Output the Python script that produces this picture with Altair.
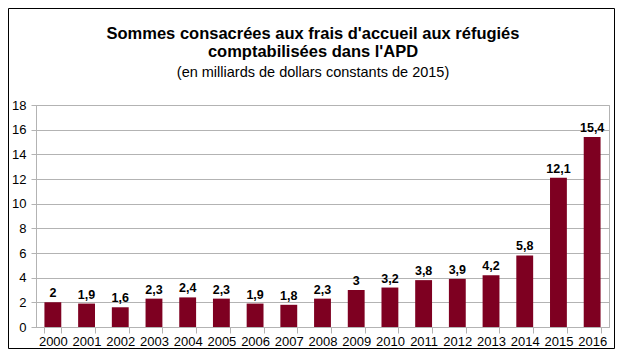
import altair as alt
import pandas as pd

years = [str(y) for y in range(2000, 2017)]
values = [2, 1.9, 1.6, 2.3, 2.4, 2.3, 1.9, 1.8, 2.3, 3, 3.2, 3.8, 3.9, 4.2, 5.8, 12.1, 15.4]
labels = [f"{v:g}".replace(".", ",") for v in values]
y_ticks = list(range(0, 19, 2))

title_lines = ["Sommes consacrées aux frais d'accueil aux réfugiés", "comptabilisées dans l'APD"]
subtitle = "(en milliards de dollars constants de 2015)"

df = pd.DataFrame({"year": years, "value": values, "label": labels})

W, H = 573, 222
PL, PT, PR, PB = 28, 97, 6, 22

x = alt.X("year:N", title=None, sort=None,
          scale=alt.Scale(paddingInner=0.5, paddingOuter=0.25),
          axis=alt.Axis(labelAngle=0, tickBand="extent", tickSize=6, tickColor="#b3b3b3",
                        domainColor="#b3b3b3", labelPadding=2, labelFont="Liberation Sans",
                        labelFontSize=13, labelColor="black", grid=False))
y = alt.Y("value:Q", title=None,
          scale=alt.Scale(domain=[0, 18], nice=False),
          axis=alt.Axis(values=y_ticks, tickSize=5, tickColor="#b3b3b3", domainColor="#b3b3b3",
                        gridColor="#b3b3b3", labelPadding=5, labelFont="Liberation Sans",
                        labelFontSize=13, labelColor="black"))

base = alt.Chart(df)
bars = base.mark_bar(color="#7e0021").encode(x=x, y=y)
text = base.mark_text(baseline="alphabetic", dy=-5, font="Liberation Sans", fontSize=12.5,
                      fontWeight="bold", color="black").encode(x=x, y=y, text="label:N")

one = pd.DataFrame({"k": [0]})
border = alt.Chart(one).mark_rect(fill=None, stroke="black", strokeWidth=1).encode(
    x=alt.value(-PL + 0.5), x2=alt.value(W + PR - 0.5),
    y=alt.value(-PT + 0.5), y2=alt.value(H + PB - 0.5))

cx = 277
t1 = alt.Chart(one).mark_text(font="Liberation Sans", fontSize=16.5, fontWeight="bold", color="black",
                              align="center", baseline="alphabetic").encode(
    x=alt.value(cx), y=alt.value(-66.5), text=alt.value(title_lines[0]))
t2 = alt.Chart(one).mark_text(font="Liberation Sans", fontSize=16.5, fontWeight="bold", color="black",
                              align="center", baseline="alphabetic").encode(
    x=alt.value(cx), y=alt.value(-48), text=alt.value(title_lines[1]))
t3 = alt.Chart(one).mark_text(font="Liberation Sans", fontSize=14.5, color="black",
                              align="center", baseline="alphabetic").encode(
    x=alt.value(cx), y=alt.value(-28.5), text=alt.value(subtitle))

chart = alt.layer(bars, text, border, t1, t2, t3).properties(
    width=W, height=H,
    padding={"left": PL, "top": PT, "right": PR, "bottom": PB},
    autosize=alt.AutoSizeParams(type="none"),
    background="white",
).configure_view(stroke="#b3b3b3")

chart.save("out.html", embed_options={"renderer": "svg", "actions": False})
